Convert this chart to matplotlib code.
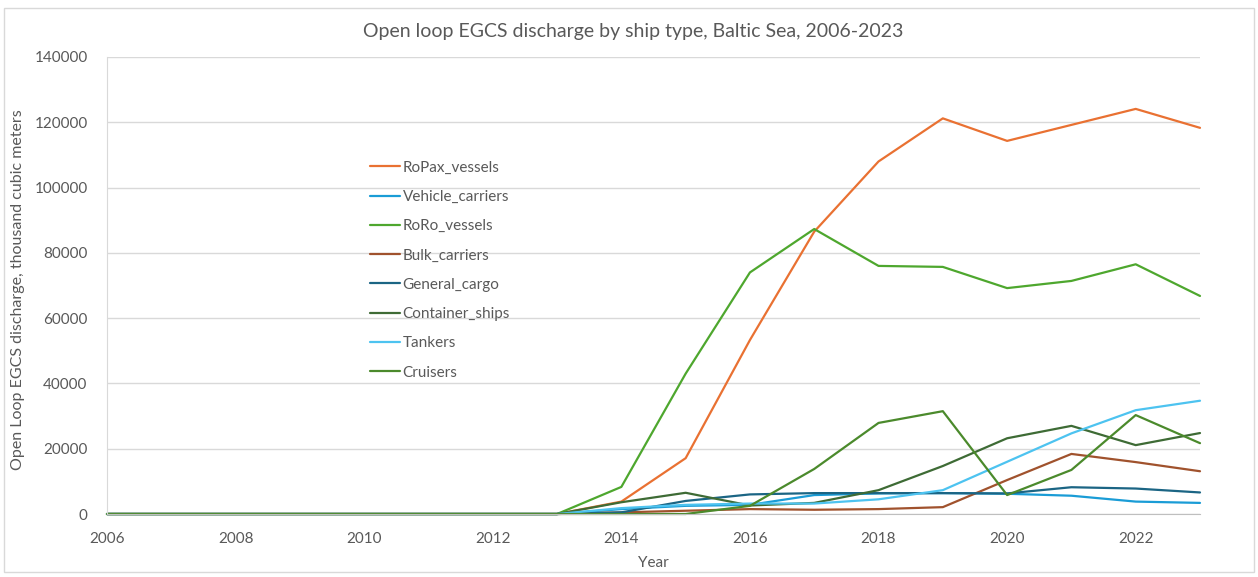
import matplotlib
matplotlib.use("Agg")
import matplotlib.pyplot as plt
from matplotlib.patches import Rectangle

plt.rcParams['font.family'] = ['Lato', 'DejaVu Sans']

years = list(range(2006, 2024))
zeros = [0] * 8  # 2006-2013

ropax = zeros + [3800, 17100, 53300, 86500, 108000, 121200, 114300, 119200, 124100, 118300]
vehicle = zeros + [1500, 2500, 2800, 5800, 6300, 6400, 6200, 5600, 3800, 3400]
roro = zeros + [8300, 43000, 74000, 87300, 76000, 75700, 69200, 71400, 76500, 66800]
bulk = zeros + [500, 1000, 1500, 1300, 1500, 2100, 10400, 18400, 15900, 13100]
general = zeros + [500, 4000, 6000, 6400, 6400, 6400, 6300, 8200, 7800, 6600]
container = zeros + [3600, 6500, 2600, 3400, 7300, 14700, 23200, 27000, 21100, 24800]
tankers = zeros + [1800, 2800, 3200, 3200, 4500, 7300, 16000, 24700, 31800, 34700]
cruisers = zeros + [0, 0, 2500, 13800, 27900, 31500, 5800, 13500, 30300, 21700]

series = [
    ("RoPax_vessels", ropax, "#E97132"),
    ("Vehicle_carriers", vehicle, "#1A9CD6"),
    ("RoRo_vessels", roro, "#4EA72E"),
    ("Bulk_carriers", bulk, "#A0522D"),
    ("General_cargo", general, "#1B6584"),
    ("Container_ships", container, "#3E6B35"),
    ("Tankers", tankers, "#4DC3F0"),
    ("Cruisers", cruisers, "#4B8A2C"),
]

text_col = "#595959"

fig = plt.figure(figsize=(12.58, 5.77), dpi=100)
fig.patch.set_facecolor("white")
fig.add_artist(Rectangle((0.003, 0.008), 0.994, 0.978, transform=fig.transFigure,
                         fill=False, edgecolor="#d9d9d9", linewidth=1.0))

ax = fig.add_axes([107 / 1258, 1 - 514 / 577, (1200 - 107) / 1258, (514 - 57) / 577])

for name, vals, col in series:
    ax.plot(years, vals, color=col, linewidth=1.6, label=name,
            solid_joinstyle="round", solid_capstyle="round", clip_on=False)

ax.set_xlim(2006, 2023)
ax.set_ylim(0, 140000)
ax.set_xticks(range(2006, 2024, 2))
ax.set_yticks(range(0, 140001, 20000))
ax.grid(axis="y", color="#d9d9d9", linewidth=1.0)
ax.set_axisbelow(True)
for s in ["top", "right"]:
    ax.spines[s].set_visible(False)
ax.spines["left"].set_color("#d9d9d9")
ax.spines["bottom"].set_color("#bfbfbf")
ax.tick_params(axis="both", length=0, labelsize=11, labelcolor=text_col)
ax.tick_params(axis="y", pad=14)
ax.tick_params(axis="x", pad=13)

ax.set_xlabel("Year", fontsize=11, color=text_col, labelpad=7)
ax.set_ylabel("Open Loop EGCS discharge, thousand cubic meters", fontsize=11.5,
              color=text_col, va="center")
ax.yaxis.set_label_coords(-0.081, 0.49)
fig.text(0.503, 1 - 31 / 577, "Open loop EGCS discharge by ship type, Baltic Sea, 2006-2023",
         ha="center", va="center", fontsize=14, color=text_col)

leg = ax.legend(loc="upper left", bbox_to_anchor=(362 / 1258, 1 - 153 / 577),
                bbox_transform=fig.transFigure, frameon=False, fontsize=11,
                handlelength=2.0, handletextpad=0.15, labelspacing=1.0, borderpad=0)
for t in leg.get_texts():
    t.set_color(text_col)

fig.savefig("out.png", dpi=100, facecolor="white")
